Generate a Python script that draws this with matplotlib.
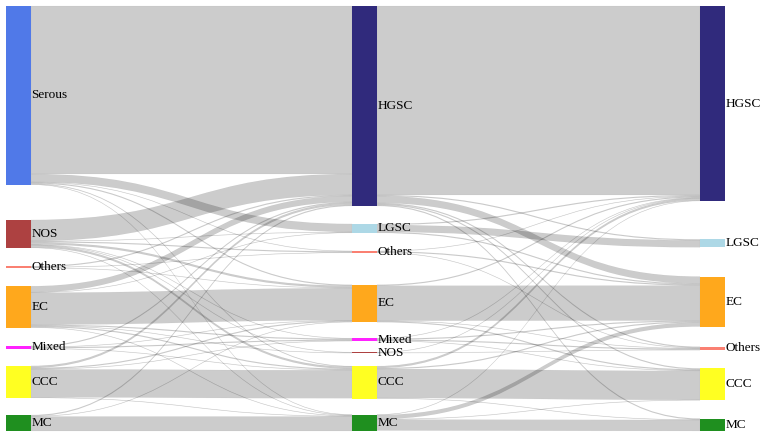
import matplotlib.pyplot as plt
from matplotlib.path import Path
from matplotlib.patches import PathPatch, Rectangle

# node labels per column (top to bottom)
col1 = ["Serous", "NOS", "Others", "EC", "Mixed", "CCC", "MC"]
col2 = ["HGSC", "LGSC", "Others", "EC", "Mixed", "NOS", "CCC", "MC"]
col3 = ["HGSC", "LGSC", "EC", "Others", "CCC", "MC"]

# flows column 1 -> column 2 (source, target, cases)
flows_1 = [
    ("Serous", "HGSC", 168), ("Serous", "LGSC", 8), ("Serous", "Others", 0.5),
    ("Serous", "EC", 1), ("Serous", "CCC", 0.7), ("Serous", "MC", 0.5),
    ("NOS", "HGSC", 21), ("NOS", "LGSC", 0.5), ("NOS", "Others", 1),
    ("NOS", "EC", 2), ("NOS", "Mixed", 0.5), ("NOS", "NOS", 0.5),
    ("NOS", "CCC", 2), ("NOS", "MC", 0.5),
    ("Others", "HGSC", 1), ("Others", "Others", 0.5), ("Others", "EC", 0.5),
    ("EC", "HGSC", 6), ("EC", "LGSC", 0.5), ("EC", "EC", 32), ("EC", "Mixed", 1),
    ("EC", "NOS", 0.5), ("EC", "CCC", 1), ("EC", "MC", 0.5),
    ("Mixed", "HGSC", 1), ("Mixed", "EC", 0.5), ("Mixed", "Mixed", 1),
    ("Mixed", "CCC", 0.5),
    ("CCC", "HGSC", 2), ("CCC", "EC", 1), ("CCC", "Mixed", 0.5),
    ("CCC", "CCC", 28), ("CCC", "MC", 0.5),
    ("MC", "HGSC", 1), ("MC", "EC", 0.5), ("MC", "MC", 14.5),
]

# flows column 2 -> column 3
flows_2 = [
    ("HGSC", "HGSC", 189), ("HGSC", "LGSC", 1), ("HGSC", "EC", 7),
    ("HGSC", "Others", 1), ("HGSC", "CCC", 1), ("HGSC", "MC", 1),
    ("LGSC", "HGSC", 1), ("LGSC", "LGSC", 7), ("LGSC", "EC", 1),
    ("Others", "HGSC", 0.5), ("Others", "EC", 1), ("Others", "Others", 0.5),
    ("EC", "HGSC", 1), ("EC", "EC", 35), ("EC", "Others", 0.5), ("EC", "CCC", 1),
    ("Mixed", "HGSC", 0.5), ("Mixed", "EC", 1), ("Mixed", "Others", 1),
    ("Mixed", "CCC", 0.5),
    ("NOS", "HGSC", 0.5), ("NOS", "Others", 0.5),
    ("CCC", "HGSC", 2), ("CCC", "EC", 1), ("CCC", "CCC", 29), ("CCC", "MC", 0.5),
    ("MC", "HGSC", 0.5), ("MC", "EC", 4), ("MC", "CCC", 0.5), ("MC", "MC", 11),
]

colors = {
    "Serous": "#5079E8", "NOS": "#AD4141", "Others": "#FA8072", "EC": "#FFA81C",
    "Mixed": "#FF22FF", "CCC": "#FFFF22", "MC": "#1F8F1F",
    "HGSC": "#302A7C", "LGSC": "#ADD8E6",
}

# ---- layout ----
W, H = 762, 436
node_x = [6, 352, 700]
node_w = 25
y_top, y_bot = 6, 431
scale = 1.0
gap_weights = [[35, 18, 18, 18, 17, 17],
               [18, 18, 32, 16, 11, 13, 16],
               [38, 29, 20, 18, 18]]
columns = [col1, col2, col3]
stages = [flows_1, flows_2]

# node values
vals = [dict((n, 0.0) for n in c) for c in columns]
ins = [dict((n, 0.0) for n in c) for c in columns]
outs = [dict((n, 0.0) for n in c) for c in columns]
for s, fl in enumerate(stages):
    for a, b, v in fl:
        outs[s][a] += v
        ins[s + 1][b] += v
for k in range(3):
    for n in columns[k]:
        vals[k][n] = max(ins[k][n], outs[k][n])

# node tops
tops = []
for k, col in enumerate(columns):
    total = sum(vals[k].values()) * scale
    free = (y_bot - y_top) - total
    gw = gap_weights[k]
    gaps = [g * free / sum(gw) for g in gw]
    y = y_top
    t = {}
    for i, n in enumerate(col):
        t[n] = y
        y += vals[k][n] * scale
        if i < len(gaps):
            y += gaps[i]
    tops.append(t)


def center(k, n):
    return tops[k][n] + vals[k][n] * scale / 2


fig = plt.figure(figsize=(7.62, 4.36), dpi=100)
ax = fig.add_axes([0, 0, 1, 1])
ax.set_xlim(0, W)
ax.set_ylim(H, 0)
ax.axis("off")

# links
for s, fl in enumerate(stages):
    src_off = dict(tops[s])
    dst_off = dict(tops[s + 1])
    src_y = {}
    for n in columns[s]:
        mine = sorted([f for f in fl if f[0] == n], key=lambda f: center(s + 1, f[1]))
        for f in mine:
            src_y[id(f)] = src_off[n]
            src_off[n] += f[2] * scale
    dst_y = {}
    for n in columns[s + 1]:
        mine = sorted([f for f in fl if f[1] == n], key=lambda f: center(s, f[0]))
        for f in mine:
            dst_y[id(f)] = dst_off[n]
            dst_off[n] += f[2] * scale
    x0 = node_x[s] + node_w
    x1 = node_x[s + 1]
    xm = (x0 + x1) / 2
    for f in fl:
        a0 = src_y[id(f)]
        b0 = dst_y[id(f)]
        h = f[2] * scale
        a1, b1 = a0 + h, b0 + h
        verts = [(x0, a0), (xm, a0), (xm, b0), (x1, b0), (x1, b1),
                 (xm, b1), (xm, a1), (x0, a1), (x0, a0)]
        codes = [Path.MOVETO, Path.CURVE4, Path.CURVE4, Path.CURVE4, Path.LINETO,
                 Path.CURVE4, Path.CURVE4, Path.CURVE4, Path.CLOSEPOLY]
        ax.add_patch(PathPatch(Path(verts, codes), facecolor=(0, 0, 0, 0.2),
                               edgecolor=(0, 0, 0, 0.05), lw=0.3))

# nodes + labels
for k, col in enumerate(columns):
    for n in col:
        h = max(vals[k][n] * scale, 1)
        ax.add_patch(Rectangle((node_x[k], tops[k][n]), node_w, h,
                               facecolor=colors[n], edgecolor="none"))
        ax.text(node_x[k] + node_w + 0.5, center(k, n), n, fontsize=9.5,
                family="Liberation Serif", va="center", ha="left", color="black")

fig.savefig("out.png", dpi=100)
